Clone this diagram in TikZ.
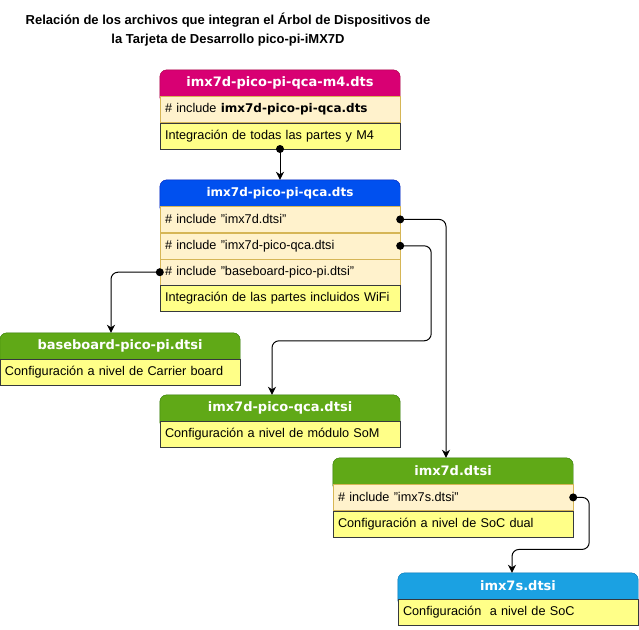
\documentclass[tikz,border=0pt]{standalone}
\usepackage{fontspec}
\setmainfont{Liberation Sans}
\newfontfamily\headfont{DejaVu Sans}
\usetikzlibrary{arrows.meta, positioning, backgrounds}
\definecolor{pinkfill}{HTML}{D80073}
\definecolor{pinkline}{HTML}{A50040}
\definecolor{bluefill}{HTML}{0050EF}
\definecolor{blueline}{HTML}{001DBC}
\definecolor{greenfill}{HTML}{60A917}
\definecolor{greenline}{HTML}{2D7600}
\definecolor{skyfill}{HTML}{1BA1E2}
\definecolor{skyline}{HTML}{006EAF}
\definecolor{incfill}{HTML}{FFF2CC}
\definecolor{incline}{HTML}{D6B656}
\definecolor{notefill}{HTML}{FFFF88}
\definecolor{noteline}{HTML}{36393D}

\begin{document}
\begin{tikzpicture}[x=1pt, y=-1pt,
		hdr/.style={minimum width=240pt, minimum height=26pt, inner sep=0pt, text=white, font=\headfont\bfseries\fontsize{13}{15}\selectfont},
		row/.style={minimum height=26pt, text width=230pt, inner xsep=5pt, inner ysep=0pt, align=left, font=\fontsize{12.7}{15}\selectfont},
		inc/.style={row, draw=incline, fill=incfill},
		note/.style={row, draw=noteline, fill=notefill},
		link/.style={line width=1pt, rounded corners=7pt, -{Stealth[length=8pt, width=8pt, inset=2.5pt]}}]
		\useasboundingbox (0,0) rectangle (639,629);
		% title:
		\node[font=\bfseries\fontsize{13}{19}\selectfont, align=center] (title) at (228,30) {Relación de los archivos que integran el Árbol de Dispositivos de\\la Tarjeta de Desarrollo pico-pi-iMX7D};
		
		% imx7d-pico-pi-qca-m4.dts
		\node[hdr] (m4) at (280,83) {imx7d-pico-pi-qca-m4.dts};
		\node[inc, below=0pt of m4] (m4i) {\# include {\headfont\bfseries\fontsize{12}{14}\selectfont imx7d-pico-pi-qca.dts}};
		\node[note, below=0pt of m4i] (m4n) {Integración de todas las partes y M4};
		
		% imx7d-pico-pi-qca.dts
		\node[hdr, font=\headfont\bfseries\fontsize{12}{14}\selectfont] (qca) at (280,193) {imx7d-pico-pi-qca.dts};
		\node[inc, below=0pt of qca] (q1) {\# include "imx7d.dtsi"};
		\node[inc, below=0pt of q1] (q2) {\# include "imx7d-pico-qca.dtsi};
		\node[inc, below=0pt of q2] (q3) {\# include "baseboard-pico-pi.dtsi"};
		\node[note, below=0pt of q3] (qn) {Integración de las partes incluidos WiFi};
		
		% included files
		\node[hdr] (base) at (120,346) {baseboard-pico-pi.dtsi};
		\node[note, below=0pt of base] (basen) {Configuración a nivel de Carrier board};
		\node[hdr] (som) at (280,408) {imx7d-pico-qca.dtsi};
		\node[note, below=0pt of som] (somn) {Configuración a nivel de módulo SoM};
		\node[hdr] (x7) at (453,471) {imx7d.dtsi};
		\node[inc, below=0pt of x7] (x7i) {\# include "imx7s.dtsi"};
		\node[note, below=0pt of x7i] (x7n) {Configuración a nivel de SoC dual};
		\node[hdr] (x7s) at (518,586) {imx7s.dtsi};
		\node[note, below=0pt of x7s] (x7sn) {Configuración\ \ a nivel de SoC};
		
		% header backgrounds, rounded on top
		\begin{scope}[on background layer]
			\foreach \h/\f/\l in {m4/pinkfill/pinkline, qca/bluefill/blueline, base/greenfill/greenline, som/greenfill/greenline, x7/greenfill/greenline, x7s/skyfill/skyline}{
				\draw[fill=\f, draw=\l, rounded corners=7pt] ([yshift=-8pt]\h.south west) rectangle (\h.north east);
			}
		\end{scope}
		
		% include arrows
		\draw[link] (m4n.south) -- (qca.north);
		\draw[link] (q1.east) -| ([xshift=-7pt]x7.north);
		\draw[link] (q2.east) -| ++(31,95) -| ([xshift=-8pt]som.north);
		\draw[link] (q3.west) -| ([xshift=-9pt]base.north);
		\draw[link] (x7i.east) -| ++(16,52) -| ([xshift=-6pt]x7s.north);
		\foreach \p in {m4n.south, q1.east, q2.east, q3.west, x7i.east}{
			\fill (\p) circle (4pt);
		}
	\end{tikzpicture}
\end{document}
